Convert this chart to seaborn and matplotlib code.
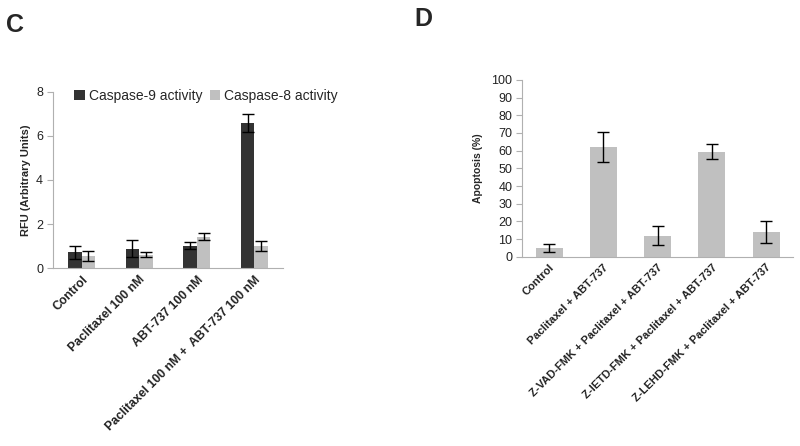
import numpy as np
import pandas as pd
import matplotlib
matplotlib.use("Agg")
import matplotlib.pyplot as plt
import seaborn as sns

# Panel C data
c_groups = ["Control", "Paclitaxel 100 nM", "ABT-737 100 nM",
            "Paclitaxel 100 nM +  ABT-737 100 nM"]
c_series = ["Caspase-9 activity", "Caspase-8 activity"]
casp9 = [0.72, 0.88, 1.01, 6.60]
casp9_err = [0.30, 0.38, 0.16, 0.41]
casp8 = [0.56, 0.60, 1.42, 1.00]
casp8_err = [0.23, 0.11, 0.16, 0.24]

# Panel D data
d_groups = ["Control", "Paclitaxel + ABT-737",
            "Z-VAD-FMK + Paclitaxel + ABT-737",
            "Z-IETD-FMK + Paclitaxel + ABT-737",
            "Z-LEHD-FMK + Paclitaxel + ABT-737"]
apoptosis = [4.9, 62.2, 11.9, 59.5, 14.3]
apoptosis_err = [2.4, 8.4, 5.3, 4.4, 6.2]

dark = "#333333"
light = "#c0c0c0"
axis_col = "#b0b0b0"

sns.set_style("white")
plt.rcParams["font.family"] = ["Liberation Sans", "DejaVu Sans"]

fig = plt.figure(figsize=(8, 4.46), dpi=100)
ax_c = fig.add_axes([0.066, 0.399, 0.288, 0.395])
ax_d = fig.add_axes([0.6525, 0.424, 0.339, 0.397])


def style_axis(ax, n, xsize):
    for s in ["top", "right"]:
        ax.spines[s].set_visible(False)
    for s in ["left", "bottom"]:
        ax.spines[s].set_color(axis_col)
        ax.spines[s].set_linewidth(0.8)
    ax.set_xlim(-0.5, n - 0.5)
    ax.set_xticks(np.arange(-0.5, n), minor=True)
    ax.tick_params(axis="x", which="major", length=0, pad=4)
    ax.tick_params(axis="x", which="minor", length=4, color=axis_col, width=0.8)
    ax.tick_params(axis="y", left=True, length=4, color=axis_col, width=0.8,
                   labelsize=9, labelcolor="#222222", pad=3)
    for lab in ax.get_xticklabels():
        lab.set_rotation(45)
        lab.set_ha("right")
        lab.set_rotation_mode("anchor")
        lab.set_fontweight("bold")
        lab.set_fontsize(xsize)
        lab.set_color("#222222")


# ---- Panel C ----
df_c = pd.DataFrame({
    "grupo": c_groups * 2,
    "serie": [c_series[0]] * 4 + [c_series[1]] * 4,
    "valor": casp9 + casp8,
})
sns.barplot(data=df_c, x="grupo", y="valor", hue="serie", ax=ax_c,
            palette=[dark, light], width=0.47, errorbar=None,
            saturation=1, linewidth=0)
for cont, errs in zip(ax_c.containers, [casp9_err, casp8_err]):
    xs = [p.get_x() + p.get_width() / 2 for p in cont.patches]
    ys = [p.get_height() for p in cont.patches]
    ax_c.errorbar(xs, ys, yerr=errs, fmt="none", ecolor="black",
                  elinewidth=1, capsize=4, capthick=1)
ax_c.set_ylim(0, 8)
ax_c.set_yticks([0, 2, 4, 6, 8])
ax_c.set_xlabel("")
ax_c.set_ylabel("RFU (Arbitrary Units)", fontsize=8, fontweight="bold")
style_axis(ax_c, len(c_groups), 8.8)
ax_c.legend(loc="upper left", bbox_to_anchor=(0.07, 1.05), ncol=2,
            frameon=False, fontsize=10, handlelength=0.75, handleheight=0.75,
            handletextpad=0.3, columnspacing=0.5, borderaxespad=0)

# ---- Panel D ----
df_d = pd.DataFrame({"grupo": d_groups, "valor": apoptosis})
sns.barplot(data=df_d, x="grupo", y="valor", ax=ax_d, color=light,
            width=0.5, errorbar=None, saturation=1, linewidth=0)
xs = [p.get_x() + p.get_width() / 2 for p in ax_d.patches]
ys = [p.get_height() for p in ax_d.patches]
ax_d.errorbar(xs, ys, yerr=apoptosis_err, fmt="none", ecolor="black",
              elinewidth=1, capsize=4, capthick=1)
ax_d.set_ylim(0, 100)
ax_d.set_yticks(range(0, 101, 10))
ax_d.set_xlabel("")
ax_d.set_ylabel("Apoptosis (%)", fontsize=7.5, fontweight="bold", labelpad=6)
style_axis(ax_d, len(d_groups), 8)

fig.text(0.008, 0.97, "C", fontsize=18, fontweight="bold", va="top")
fig.text(0.518, 0.985, "D", fontsize=18, fontweight="bold", va="top")

fig.savefig("out.png", dpi=100, facecolor="white")
